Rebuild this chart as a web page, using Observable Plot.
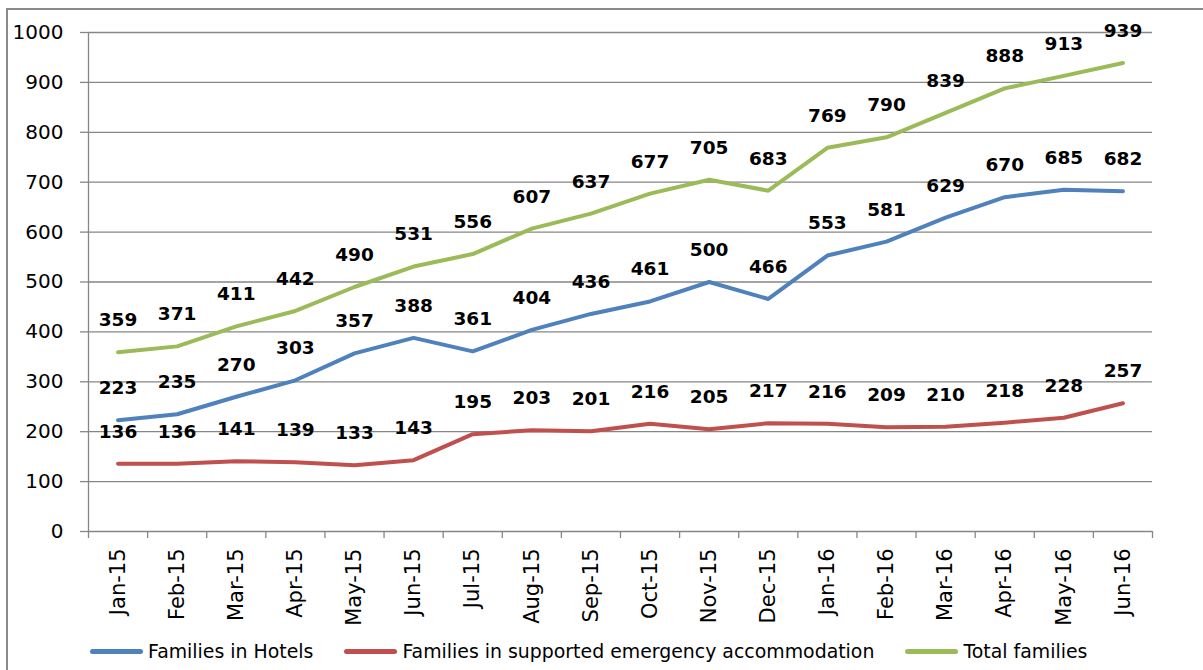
<!DOCTYPE html>
<html>
<head>
<meta charset="utf-8">
<script src="https://cdn.jsdelivr.net/npm/d3@7"></script>
<script src="https://cdn.jsdelivr.net/npm/@observablehq/plot@0.6"></script>
<style>
  html, body { margin: 0; padding: 0; background: #fff; }
  #wrap { position: relative; width: 1203px; height: 670px; overflow: hidden; font-family: "DejaVu Sans", sans-serif; }
  #frame { position: absolute; left: 6px; top: 8px; right: -10px; bottom: -10px; border-top: 2px solid #8a8a8a; border-left: 2px solid #8a8a8a; }
  #chart { position: absolute; left: 0; top: 0; }
  #legend { position: absolute; left: 90px; top: 640px; display: flex; align-items: center; font-size: 18.9px; color: #000; }
  .item { display: flex; align-items: center; margin-right: 31px; }
  .sw { width: 53px; height: 5px; border-radius: 3px; margin-right: 5px; }
</style>
</head>
<body>
<div id="wrap">
  <div id="frame"></div>
  <div id="chart"></div>
  <div id="legend"></div>
</div>
<script>
const months = ["Jan-15","Feb-15","Mar-15","Apr-15","May-15","Jun-15","Jul-15","Aug-15","Sep-15","Oct-15","Nov-15","Dec-15","Jan-16","Feb-16","Mar-16","Apr-16","May-16","Jun-16"];
const hotels = [223,235,270,303,357,388,361,404,436,461,500,466,553,581,629,670,685,682];
const supported = [136,136,141,139,133,143,195,203,201,216,205,217,216,209,210,218,228,257];
const total = [359,371,411,442,490,531,556,607,637,677,705,683,769,790,839,888,913,939];
const seriesNames = ["Families in Hotels","Families in supported emergency accommodation","Total families"];
const seriesColors = ["#4f81bd","#c0504d","#9bbb59"];
const yTicks = [0,100,200,300,400,500,600,700,800,900,1000];

const seriesValues = [hotels, supported, total];
const data = [];
seriesNames.forEach((name, s) => {
  months.forEach((m, i) => data.push({i, month: m, value: seriesValues[s][i], name}));
});
const idx = months.map((m, i) => i);
const bounds = months.map((m, i) => i - 0.5).concat([months.length - 0.5]);
const gray = "#868686";

const chart = Plot.plot({
  width: 1203,
  height: 640,
  marginLeft: 88,
  marginRight: 51,
  marginTop: 32,
  marginBottom: 109,
  style: {fontFamily: "DejaVu Sans, sans-serif", background: "transparent", color: "#000"},
  x: {domain: [-0.5, months.length - 0.5], axis: null},
  y: {domain: [0, 1000], axis: null},
  color: {domain: seriesNames, range: seriesColors},
  marks: [
    Plot.gridY(yTicks, {stroke: gray, strokeOpacity: 1, strokeWidth: 1.3}),
    Plot.axisY(yTicks, {tickSize: 8, tickPadding: 17, fontSize: 20, stroke: gray, strokeWidth: 1.3, fill: "#000", label: null, tickFormat: d => String(d)}),
    Plot.ruleX([-0.5], {stroke: gray, strokeWidth: 1.3}),
    Plot.axisX(bounds, {tickSize: 7, tickFormat: () => "", stroke: gray, strokeWidth: 1.3, label: null}),
    Plot.axisX(idx, {tickSize: 0, tickPadding: 17, tickRotate: -90, tickFormat: i => months[i], fontSize: 21, fill: "#000", label: null}),
    Plot.line(data, {x: "i", y: "value", z: "name", stroke: "name", strokeWidth: 4, curve: "linear"}),
    Plot.text(data, {x: "i", y: "value", text: d => String(d.value), dy: -32, fontSize: 18.5, fontWeight: "bold", fill: "#000"})
  ]
});
document.getElementById("chart").appendChild(chart);

const legend = document.getElementById("legend");
seriesNames.forEach((name, s) => {
  const item = document.createElement("div");
  item.className = "item";
  const sw = document.createElement("div");
  sw.className = "sw";
  sw.style.background = seriesColors[s];
  const label = document.createElement("span");
  label.textContent = name;
  item.appendChild(sw);
  item.appendChild(label);
  legend.appendChild(item);
});
</script>
</body>
</html>
